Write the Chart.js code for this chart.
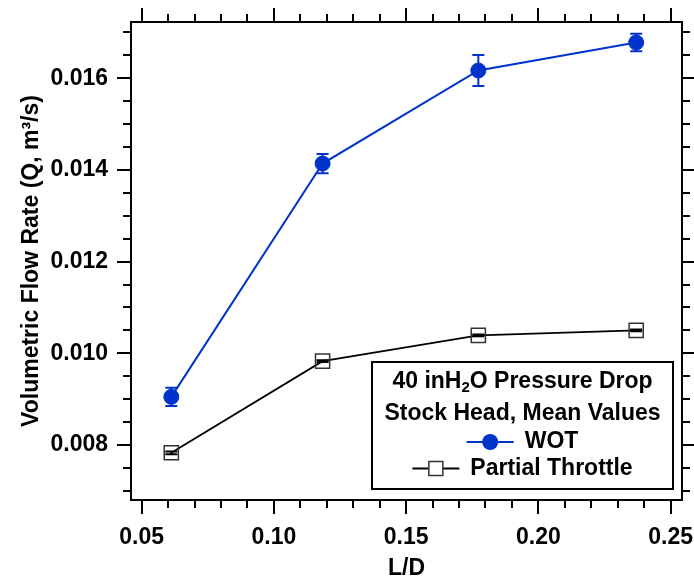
<!DOCTYPE html>
<html>
<head>
<meta charset="utf-8">
<title>Volumetric flow rate vs L/D</title>
<script src="https://cdn.jsdelivr.net/npm/chart.js@4.4.1/dist/chart.umd.min.js"></script>
<style>
  html, body { margin: 0; padding: 0; background: #fff; }
  canvas { display: block; }
</style>
</head>
<body>
<canvas id="flow-chart" width="694" height="580"></canvas>
<script>
// L/D values shared by both runs
const LD = [0.0612, 0.1184, 0.1773, 0.2370];

// wide open throttle, mean flow and error
const WOT = [0.00905, 0.01414, 0.01617, 0.01678];
const WOT_ERR = [0.00020, 0.00021, 0.00034, 0.00019];

// partial throttle, mean flow and error
const PARTIAL = [0.00783, 0.00983, 0.01039, 0.01050];
const PARTIAL_ERR = [0.00003, 0.00002, 0.00002, 0.00002];

const X_TICKS = [0.05, 0.10, 0.15, 0.20, 0.25];
const X_TICK_LABELS = ["0.05", "0.10", "0.15", "0.20", "0.25"];
const Y_TICKS = [0.008, 0.010, 0.012, 0.014, 0.016];
const Y_TICK_LABELS = ["0.008", "0.010", "0.012", "0.014", "0.016"];

const BLUE = "#0033cc";
const FAMILY = "'Liberation Sans', Arial, sans-serif";
const FONT = "bold 23px " + FAMILY;

Chart.defaults.font.family = FAMILY;
Chart.defaults.color = "#000";

// every step between min and max (minor tick positions)
const steps = (min, max, step) => {
  const out = [];
  for (let k = Math.ceil(min / step - 1e-9); k * step <= max + 1e-12; k++) out.push(k * step);
  return out;
};
const isMajor = (v, majors) => majors.some((m) => Math.abs(m - v) < 1e-9);

// the label overflow padding would shrink the plot box, drop it
const noPadding = (s) => {
  s.paddingLeft = s.paddingRight = s.paddingTop = s.paddingBottom = 0;
};

// box with outward ticks on all four sides
const frameTicks = {
  id: "frameTicks",
  afterDraw(chart) {
    const { ctx, chartArea: a, scales: { x, y } } = chart;
    ctx.save();
    ctx.strokeStyle = "#000";
    ctx.lineWidth = 2;
    ctx.beginPath();
    steps(x.min, x.max, 0.01).forEach((v) => {
      const px = Math.round(x.getPixelForValue(v));
      const len = isMajor(v, X_TICKS) ? 14 : 8;
      ctx.moveTo(px, a.bottom); ctx.lineTo(px, a.bottom + len);
      ctx.moveTo(px, a.top); ctx.lineTo(px, a.top - len);
    });
    steps(y.min, y.max, 0.0005).forEach((v) => {
      const py = Math.round(y.getPixelForValue(v));
      const len = isMajor(v, Y_TICKS) ? 14 : 8;
      ctx.moveTo(a.left, py); ctx.lineTo(a.left - len, py);
      ctx.moveTo(a.right, py); ctx.lineTo(a.right + len, py);
    });
    ctx.stroke();
    ctx.strokeRect(a.left, a.top, a.right - a.left, a.bottom - a.top);
    ctx.restore();
  },
};

// vertical error bars with caps
const errorBars = {
  id: "errorBars",
  afterDatasetsDraw(chart) {
    const { ctx, scales: { x, y } } = chart;
    const sets = [
      { vals: WOT, err: WOT_ERR, color: BLUE },
      { vals: PARTIAL, err: PARTIAL_ERR, color: "#000" },
    ];
    ctx.save();
    ctx.lineWidth = 2;
    sets.forEach((s) => {
      ctx.strokeStyle = s.color;
      ctx.beginPath();
      LD.forEach((ld, i) => {
        const px = x.getPixelForValue(ld);
        const top = y.getPixelForValue(s.vals[i] + s.err[i]);
        const bot = y.getPixelForValue(s.vals[i] - s.err[i]);
        ctx.moveTo(px, top); ctx.lineTo(px, bot);
        ctx.moveTo(px - 6, top); ctx.lineTo(px + 6, top);
        ctx.moveTo(px - 6, bot); ctx.lineTo(px + 6, bot);
      });
      ctx.stroke();
    });
    ctx.restore();
  },
};

// boxed legend in the lower right corner
const legendBox = {
  id: "legendBox",
  afterDraw(chart) {
    const { ctx, chartArea: a } = chart;
    const w = 301, h = 127;
    const left = a.right - 9 - w, top = a.bottom - 11 - h;
    const cx = left + w / 2;
    ctx.save();
    ctx.fillStyle = "#fff";
    ctx.fillRect(left, top, w, h);
    ctx.strokeStyle = "#000";
    ctx.lineWidth = 2;
    ctx.strokeRect(left, top, w, h);

    ctx.fillStyle = "#000";
    ctx.textBaseline = "middle";
    ctx.textAlign = "left";

    // "40 inH2O Pressure Drop" with subscript 2
    const parts = [["40 inH", FONT, 0], ["2", "bold 15px " + FAMILY, 6], ["O Pressure Drop", FONT, 0]];
    let total = 0;
    parts.forEach((p) => { ctx.font = p[1]; total += ctx.measureText(p[0]).width; });
    let tx = cx - total / 2;
    parts.forEach((p) => {
      ctx.font = p[1];
      ctx.fillText(p[0], tx, top + 20 + p[2]);
      tx += ctx.measureText(p[0]).width;
    });

    ctx.font = FONT;
    ctx.textAlign = "center";
    ctx.fillText("Stock Head, Mean Values", cx, top + 52);

    // series rows: line symbol + marker + name
    const rows = [
      { name: "WOT", color: BLUE, y: top + 80, marker: "circle" },
      { name: "Partial Throttle", color: "#000", y: top + 106.5, marker: "rect" },
    ];
    ctx.textAlign = "left";
    rows.forEach((r) => {
      const sym = 47, gap = 11;
      const rowW = sym + gap + ctx.measureText(r.name).width;
      const x0 = cx - rowW / 2;
      const mx = x0 + sym / 2;
      ctx.strokeStyle = r.color;
      ctx.lineWidth = 2;
      ctx.beginPath();
      ctx.moveTo(x0, r.y); ctx.lineTo(x0 + sym, r.y);
      ctx.stroke();
      if (r.marker === "circle") {
        ctx.fillStyle = r.color;
        ctx.beginPath();
        ctx.arc(mx, r.y, 8, 0, Math.PI * 2);
        ctx.fill();
      } else {
        ctx.fillStyle = "#fff";
        ctx.fillRect(mx - 7, r.y - 7, 14, 14);
        ctx.strokeStyle = "#333";
        ctx.lineWidth = 1.5;
        ctx.strokeRect(mx - 7, r.y - 7, 14, 14);
      }
      ctx.fillStyle = "#000";
      ctx.fillText(r.name, x0 + sym + gap, r.y);
    });
    ctx.restore();
  },
};

const tickFont = { size: 23, weight: "bold", lineHeight: 1 };

new Chart(document.getElementById("flow-chart"), {
  type: "scatter",
  data: {
    datasets: [
      {
        label: "WOT",
        data: LD.map((x, i) => ({ x, y: WOT[i] })),
        showLine: true,
        borderColor: BLUE,
        backgroundColor: BLUE,
        borderWidth: 2,
        pointStyle: "circle",
        pointRadius: 7.5,
        pointBorderWidth: 1,
        pointBorderColor: BLUE,
        pointBackgroundColor: BLUE,
      },
      {
        label: "Partial Throttle",
        data: LD.map((x, i) => ({ x, y: PARTIAL[i] })),
        showLine: true,
        borderColor: "#000",
        borderWidth: 1.8,
        pointStyle: "rect",
        pointRadius: 10,
        pointBorderWidth: 1.5,
        pointBorderColor: "#333",
        pointBackgroundColor: "rgba(0,0,0,0)",
      },
    ],
  },
  options: {
    responsive: false,
    animation: false,
    devicePixelRatio: 1,
    layout: { padding: { top: 22, right: 12, left: 0, bottom: 0 } },
    plugins: { legend: { display: false }, tooltip: { enabled: false } },
    scales: {
      x: {
        type: "linear",
        min: 0.04595,
        max: 0.25432,
        grid: { display: false, drawTicks: false },
        border: { display: false },
        afterBuildTicks: (s) => { s.ticks = X_TICKS.map((v) => ({ value: v })); },
        afterFit: (s) => { s.height = 80; noPadding(s); },
        ticks: {
          autoSkip: false,
          maxRotation: 0,
          padding: 26,
          font: tickFont,
          callback: (v, i) => X_TICK_LABELS[i],
        },
        title: { display: true, text: "L/D", font: tickFont, padding: 0 },
      },
      y: {
        type: "linear",
        min: 0.0068,
        max: 0.017228,
        grid: { display: false, drawTicks: false },
        border: { display: false },
        afterBuildTicks: (s) => { s.ticks = Y_TICKS.map((v) => ({ value: v })); },
        afterFit: (s) => { s.width = 131; noPadding(s); },
        ticks: {
          autoSkip: false,
          padding: 23,
          font: tickFont,
          callback: (v, i) => Y_TICK_LABELS[i],
        },
        title: {
          display: true,
          text: "Volumetric Flow Rate (Q, m³/s)",
          font: tickFont,
          padding: { top: 20, bottom: 0 },
        },
      },
    },
  },
  plugins: [errorBars, frameTicks, legendBox],
});
</script>
</body>
</html>
